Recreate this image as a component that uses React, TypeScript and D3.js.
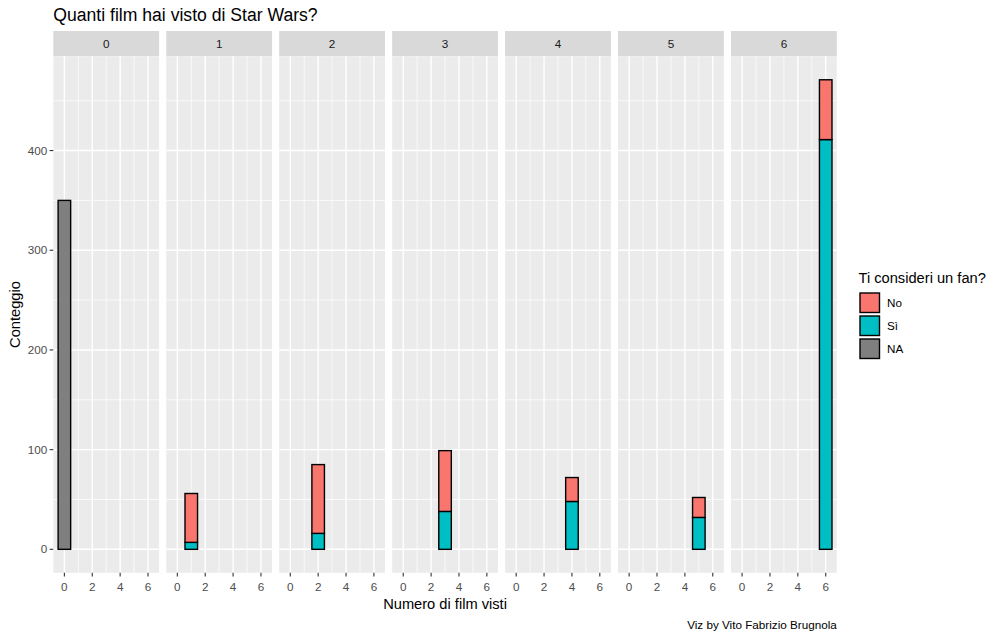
import React, { useEffect } from "react";
import * as d3 from "d3";

const facets = [0, 1, 2, 3, 4, 5, 6];
const siValues = [0, 7, 16, 38, 48, 32, 411];
const noValues = [0, 49, 69, 61, 24, 20, 60];
const naValues = [350, 0, 0, 0, 0, 0, 0];
const xTicks = [0, 2, 4, 6];
const xMinor = [1, 3, 5];
const yTicks = [0, 100, 200, 300, 400];
const yMinor = [50, 150, 250, 350, 450];
const legendKeys = ["No", "Sì", "NA"];
const legendColors = ["#F8766D", "#00BFC4", "#7F7F7F"];

const FONT = "'Liberation Sans', Arial, sans-serif";

export default function App() {
  useEffect(() => {
    document.body.style.margin = "0";
  }, []);

  const W = 1000;
  const H = 639;
  const panelLeft = 53.3;
  const panelW = 105.8;
  const gap = 7.15;
  const panelTop = 56.3;
  const panelBottom = 572.8;
  const stripTop = 31;

  const totals = facets.map((_, i) => siValues[i] + noValues[i] + naValues[i]);
  const maxV = d3.max(totals) as number;
  const y = d3
    .scaleLinear()
    .domain([-0.05 * maxV, 1.05 * maxV])
    .range([panelBottom, panelTop]);

  const xScale = (i: number) => {
    const x0 = panelLeft + i * (panelW + gap);
    const lo = -0.45, hi = 6.45;
    const pad = (hi - lo) * 0.05;
    return d3.scaleLinear().domain([lo - pad, hi + pad]).range([x0, x0 + panelW]);
  };

  return (
    <svg width={W} height={H} style={{ display: "block", background: "#fff" }} fontFamily={FONT}>
      <text x={panelLeft} y={21} fontSize={17.6} fill="#000">
        Quanti film hai visto di Star Wars?
      </text>
      {facets.map((f, i) => {
        const x = xScale(i);
        const x0 = x.range()[0];
        const bw = x(0.9) - x(0);
        const si = siValues[i];
        const no = noValues[i];
        const na = naValues[i];
        return (
          <g key={f}>
            <rect x={x0} y={stripTop} width={panelW} height={panelTop - stripTop} fill="#D9D9D9" />
            <text x={x0 + panelW / 2} y={(stripTop + panelTop) / 2} dy="0.35em" textAnchor="middle" fontSize={11.7} fill="#1A1A1A">
              {f}
            </text>
            <rect x={x0} y={panelTop} width={panelW} height={panelBottom - panelTop} fill="#EBEBEB" />
            {yMinor.map((t) => (
              <line key={"ym" + t} x1={x0} x2={x0 + panelW} y1={y(t)} y2={y(t)} stroke="#fff" strokeWidth={0.7} />
            ))}
            {xMinor.map((t) => (
              <line key={"xm" + t} x1={x(t)} x2={x(t)} y1={panelTop} y2={panelBottom} stroke="#fff" strokeWidth={0.7} />
            ))}
            {yTicks.map((t) => (
              <line key={"yM" + t} x1={x0} x2={x0 + panelW} y1={y(t)} y2={y(t)} stroke="#fff" strokeWidth={1.4} />
            ))}
            {xTicks.map((t) => (
              <line key={"xM" + t} x1={x(t)} x2={x(t)} y1={panelTop} y2={panelBottom} stroke="#fff" strokeWidth={1.4} />
            ))}
            {na > 0 && (
              <rect x={x(f) - bw / 2} y={y(na)} width={bw} height={y(0) - y(na)} fill="#7F7F7F" stroke="#000" strokeWidth={1.4} />
            )}
            {si > 0 && (
              <rect x={x(f) - bw / 2} y={y(si)} width={bw} height={y(0) - y(si)} fill="#00BFC4" stroke="#000" strokeWidth={1.4} />
            )}
            {no > 0 && (
              <rect x={x(f) - bw / 2} y={y(si + no)} width={bw} height={y(si) - y(si + no)} fill="#F8766D" stroke="#000" strokeWidth={1.4} />
            )}
            {xTicks.map((t) => (
              <g key={"xt" + t}>
                <line x1={x(t)} x2={x(t)} y1={panelBottom} y2={panelBottom + 3.7} stroke="#333" strokeWidth={1.1} />
                <text x={x(t)} y={590.5} textAnchor="middle" fontSize={11.7} fill="#4D4D4D">
                  {t}
                </text>
              </g>
            ))}
          </g>
        );
      })}
      {yTicks.map((t) => (
        <g key={"yt" + t}>
          <line x1={panelLeft - 3.7} x2={panelLeft} y1={y(t)} y2={y(t)} stroke="#333" strokeWidth={1.1} />
          <text x={panelLeft - 6} y={y(t)} dy="0.35em" textAnchor="end" fontSize={11.7} fill="#4D4D4D">
            {t}
          </text>
        </g>
      ))}
      <text
        transform={`translate(20,${(panelTop + panelBottom) / 2}) rotate(-90)`}
        textAnchor="middle"
        fontSize={14.67}
        fill="#000"
      >
        Conteggio
      </text>
      <text x={(panelLeft + xScale(6).range()[1]) / 2} y={608.5} textAnchor="middle" fontSize={14.67} fill="#000">
        Numero di film visti
      </text>
      <text x={xScale(6).range()[1]} y={629} textAnchor="end" fontSize={11.7} fill="#000">
        Viz by Vito Fabrizio Brugnola
      </text>
      <text x={858.5} y={283.3} fontSize={14.67} fill="#000">
        Ti consideri un fan?
      </text>
      {legendKeys.map((k, i) => (
        <g key={k}>
          <rect x={860} y={293 + i * 23} width={19.5} height={19.5} fill={legendColors[i]} stroke="#000" strokeWidth={1.4} />
          <text x={887} y={302.8 + i * 23} dy="0.35em" fontSize={11.7} fill="#000">
            {k}
          </text>
        </g>
      ))}
    </svg>
  );
}
